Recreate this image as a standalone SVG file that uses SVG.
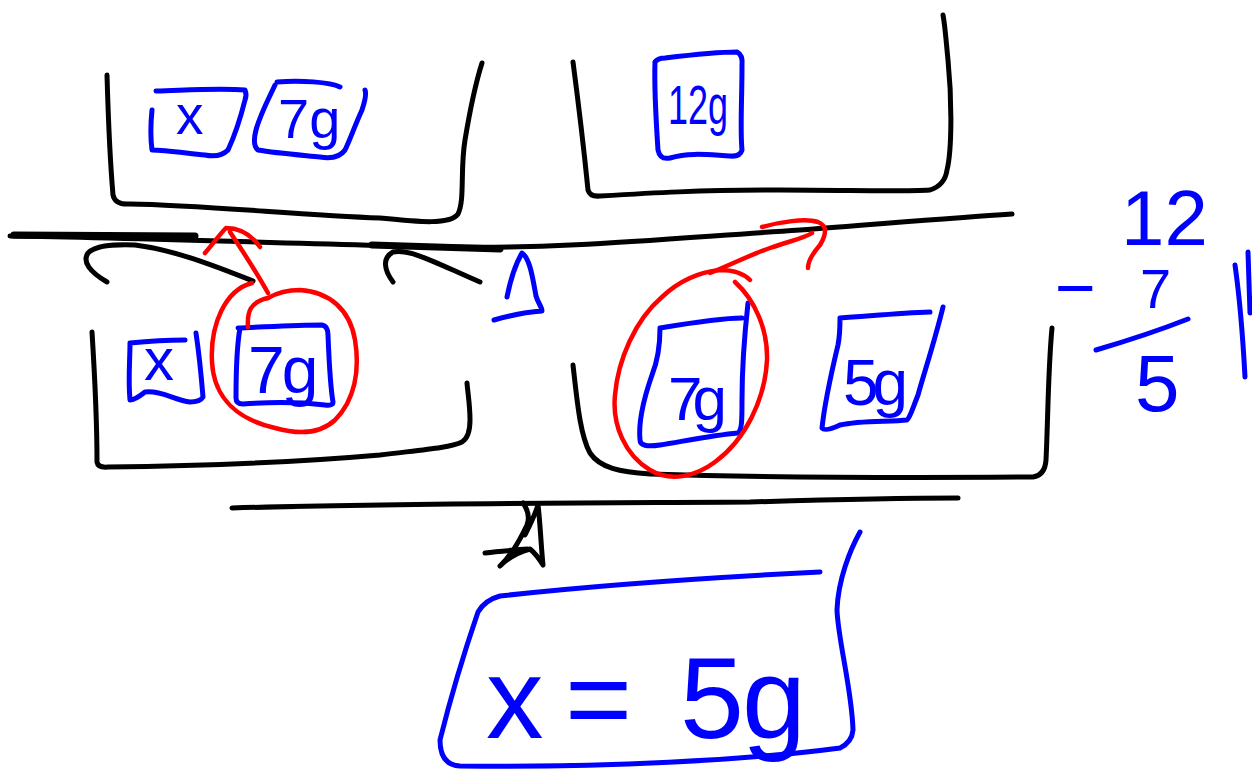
<svg xmlns="http://www.w3.org/2000/svg" width="1252" height="772" viewBox="0 0 1252 772">
<style>
.k{fill:none;stroke:#000;stroke-width:5;stroke-linecap:round;stroke-linejoin:round}
.b{fill:none;stroke:#0000ff;stroke-width:5;stroke-linecap:round;stroke-linejoin:round}
.r{fill:none;stroke:#ff0000;stroke-width:4.5;stroke-linecap:round;stroke-linejoin:round}
.t{fill:#0000ff;font-family:"Liberation Sans","DejaVu Sans",sans-serif}
</style>
<rect width="1252" height="772" fill="#fff"/>
<g id="beam">
<path class="k" d="M10,236 C150,238 300,244 450,247 C560,249 650,240 800,230 C880,224 950,218 1012,214"/>
<path class="k" style="stroke-width:7" d="M14,235 L195,236 M372,245 L500,249"/>
<path class="k" d="M107,282 C90,272 82,262 88,253 C95,246 110,244 135,245 C175,250 215,266 253,281"/>
<path class="k" d="M393,282 C384,270 382,258 393,252 C410,248 440,265 480,282"/>
<path class="k" d="M232,508 C400,503 600,503 750,502 C850,499 900,498 958,498"/>
</g>
<g id="fulcrum">
<path class="k" d="M485,553 C500,551 515,550 527,549 M523,503 C528,510 530,517 527,525 C520,540 512,555 500,566 C506,560 515,553 530,549 C536,554 540,560 543,565 C541,545 540,520 538,505 C535,515 530,525 525,535"/>
</g>
<g id="pan-top-left">
<path class="k" d="M107,75 C108,110 110,160 113,195 Q115,205 130,204 C200,205 300,215 380,218 C420,222 450,225 458,214 C465,200 460,170 465,140 C470,110 475,85 482,63"/>
<path class="b" d="M156,91 C190,90 220,88 245,90 Q247,95 245,100 C240,120 235,135 228,150 Q220,158 205,155 C185,153 165,150 152,150 C150,135 151,120 152,110"/>
<text class="t" x="176" y="134" font-size="55">x</text>
<path class="b" d="M277,82 C300,80 330,82 340,87 M365,90 Q367,95 362,110 C355,125 350,140 345,150 Q338,160 320,157 C300,155 275,153 258,150 Q252,145 256,130 C260,115 268,100 275,85"/>
<text class="t" x="278" y="138" font-size="56">7g</text>
</g>
<g id="pan-top-right">
<path class="k" d="M573,62 C578,100 583,140 588,190 Q590,197 600,196 C650,193 700,190 780,190 C850,190 900,192 930,190 Q945,185 947,170 C952,150 952,100 948,60 C946,40 945,25 943,15"/>
<path class="b" d="M655,62 Q658,58 665,58 C690,55 720,52 737,52 Q743,55 742,65 C742,100 740,130 742,150 Q740,157 730,156 C710,155 690,152 670,158 Q660,160 658,150 C656,120 654,90 655,62"/>
<text class="t" x="668" y="124" font-size="56" textLength="60" lengthAdjust="spacingAndGlyphs">12g</text>
</g>
<g id="pan-bottom-left">
<path class="k" d="M92,332 C95,380 97,430 97,462 Q98,468 108,467 C200,466 300,462 380,455 C420,450 450,448 462,442 Q470,437 470,420 C470,405 468,395 467,383"/>
<path class="b" d="M130,343 C150,341 170,340 185,340 M196,333 C200,360 202,385 203,397 Q200,402 190,402 C175,400 160,390 145,392 Q135,400 130,400 C128,380 130,360 130,343"/>
<text class="t" x="144" y="380" font-size="60">x</text>
<path class="b" d="M238,328 C265,327 295,325 322,325 Q328,326 328,335 C329,360 330,385 333,402 Q333,406 325,405 C300,402 270,402 243,404 Q236,404 236,398 C236,370 237,345 240,328"/>
<text class="t" x="248" y="393" font-size="66" letter-spacing="-3">7g</text>
</g>
<g id="pan-bottom-right">
<path class="k" d="M573,365 C577,400 580,435 590,453 C600,468 620,472 650,474 C750,477 900,478 1033,477 Q1045,475 1046,460 C1048,420 1048,370 1052,328"/>
<path class="b" d="M660,328 C690,323 720,318 742,318 M748,303 C745,330 742,370 742,400 C742,420 742,430 738,433 C715,435 690,440 660,445 Q640,448 640,440 C638,420 645,395 652,375 C658,360 660,345 660,328"/>
<text class="t" x="668" y="420" font-size="62" letter-spacing="-10">7g</text>
<path class="b" d="M840,318 C870,316 900,313 930,312 M943,307 C935,340 925,370 918,395 C912,410 910,418 907,420 C890,422 860,420 840,425 Q825,432 822,428 C825,400 832,370 838,345 C840,335 840,325 840,318"/>
<text class="t" x="843" y="405" font-size="64" letter-spacing="-6">5g</text>
</g>
<g id="marker-blue">
<path class="b" d="M507,297 C510,282 515,265 522,253 C530,258 533,280 536,296 C538,303 542,307 542,311 C525,312 508,316 494,320"/>
</g>
<g id="connectors">
<path class="r" d="M252,283 C225,290 210,325 212,362 C214,400 240,420 275,428 C300,435 320,434 335,420 C355,400 360,370 355,340 C350,310 330,292 300,290 C285,290 275,294 268,298"/>
<path class="r" d="M248,327 C247,312 250,302 268,298 M268,293 C258,275 242,250 230,232 M205,253 C212,245 220,234 226,228 C240,228 252,236 260,247"/>
<path class="r" d="M735,282 C755,300 768,330 767,360 C765,400 745,440 715,462 C695,477 670,482 650,470 C625,455 612,425 615,395 C618,360 635,320 662,297 C680,280 700,272 720,270 C735,270 745,275 750,280"/>
<path class="r" d="M710,273 C730,265 750,255 770,248 C790,241 805,238 812,233 M762,227 C780,222 805,218 818,222 C828,226 826,235 820,245 C813,253 808,260 808,268"/>
</g>
<g id="calculation">
<text class="t" x="1121" y="245" font-size="78">12</text>
<text class="t" x="1055" y="312" font-size="70">−</text>
<text class="t" x="1140" y="308" font-size="56">7</text>
<path class="b" d="M1096,350 C1130,340 1160,330 1188,319"/>
<text class="t" x="1135" y="411" font-size="80">5</text>
<path class="b" d="M1235,265 C1240,300 1243,340 1245,377 M1248,252 L1250,313"/>
</g>
<g id="result">
<path class="b" d="M820,572 C700,578 600,585 500,596 Q485,600 478,612 C465,650 450,700 440,740 Q440,765 460,766 C600,768 750,760 840,748 Q852,742 853,730 C852,690 838,640 837,610 C838,580 850,550 860,532"/>
<text class="t" y="738" font-size="115"><tspan x="486">x</tspan> <tspan x="565">=</tspan> <tspan x="680" letter-spacing="-2">5g</tspan></text>
</g>
</svg>
